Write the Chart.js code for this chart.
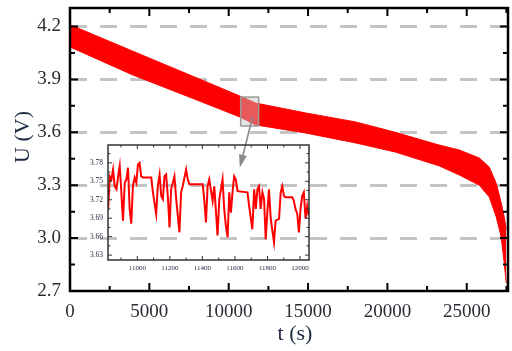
<!DOCTYPE html>
<html>
<head>
<meta charset="utf-8">
<script src="https://cdn.jsdelivr.net/npm/chart.js@4.4.1/dist/chart.umd.min.js"></script>
<style>
  body { margin: 0; background: #fff; }
  #wrap { position: relative; width: 512px; height: 351px; }
  #main { position: absolute; left: 0; top: 0; }
  #inset { position: absolute; left: 82px; top: 141px; }
</style>
</head>
<body>
<div id="wrap">
  <canvas id="main" width="512" height="351"></canvas>
  <canvas id="inset" width="232" height="138"></canvas>
</div>
<script>
// main curve: upper and lower edge of the red band (t in s, U in V)
const bandT = [0, 3960, 8000, 10700, 11700, 14840, 17990, 20500, 23250, 24530, 25790, 26420, 26860, 27170, 27360, 27490];
const bandUpper = [4.21, 4.06, 3.908, 3.806, 3.766, 3.71, 3.659, 3.60, 3.528, 3.50, 3.454, 3.403, 3.31, 3.20, 3.12, 3.05];
const bandLower = [4.084, 3.925, 3.783, 3.687, 3.642, 3.596, 3.54, 3.488, 3.41, 3.358, 3.30, 3.233, 3.12, 3.006, 2.86, 2.745];

// inset: zoomed part of the signal
const insetT = [10821, 10831, 10841, 10851, 10861, 10872, 10882, 10892, 10902, 10912, 10923, 10933, 10943, 10953, 10963, 10973,
  10984, 10994, 11004, 11014, 11024, 11035, 11086, 11096, 11116, 11126, 11137, 11147, 11157, 11167, 11177, 11188,
  11198, 11208, 11228, 11239, 11259, 11269, 11279, 11300, 11310, 11320, 11402, 11412, 11422, 11432, 11442, 11463,
  11473, 11493, 11504, 11514, 11524, 11534, 11544, 11555, 11565, 11575, 11585, 11595, 11605, 11616, 11677, 11687,
  11707, 11718, 11728, 11738, 11748, 11758, 11769, 11779, 11789, 11799, 11809, 11820, 11840, 11850, 11871, 11881,
  11891, 11901, 11911, 11952, 11962, 11972, 11983, 11993, 12003, 12013, 12023, 12034, 12044, 12054];
const insetV = [3.705, 3.758, 3.753, 3.769, 3.742, 3.737, 3.758, 3.775, 3.732, 3.686, 3.748, 3.753, 3.772, 3.705, 3.681, 3.742,
  3.756, 3.748, 3.777, 3.780, 3.758, 3.756, 3.756, 3.732, 3.697, 3.742, 3.761, 3.726, 3.721, 3.758, 3.761, 3.724,
  3.675, 3.737, 3.758, 3.721, 3.667, 3.732, 3.742, 3.769, 3.753, 3.745, 3.745, 3.718, 3.683, 3.742, 3.753, 3.718,
  3.742, 3.662, 3.721, 3.737, 3.753, 3.705, 3.678, 3.659, 3.732, 3.699, 3.732, 3.758, 3.753, 3.734, 3.732, 3.710,
  3.672, 3.737, 3.705, 3.737, 3.742, 3.705, 3.732, 3.721, 3.656, 3.699, 3.737, 3.689, 3.651, 3.686, 3.689, 3.732,
  3.742, 3.726, 3.724, 3.724, 3.718, 3.705, 3.697, 3.667, 3.705, 3.726, 3.732, 3.689, 3.710, 3.694];

// ticks
const xTicks = [0, 5000, 10000, 15000, 20000, 25000];
const xMinor = [2500, 7500, 12500, 17500, 22500, 27500];
const yTicks = [2.7, 3.0, 3.3, 3.6, 3.9, 4.2];
const yMinor = [2.85, 3.15, 3.45, 3.75, 4.05];
const insetXTicks = [11000, 11200, 11400, 11600, 11800, 12000];
const insetXMinor = [10900, 11100, 11300, 11500, 11700, 11900];
const insetYTicks = [3.63, 3.66, 3.69, 3.72, 3.75, 3.78];
const insetYMinor = [3.645, 3.675, 3.705, 3.735, 3.765, 3.795];

// zoom box on the main curve and the arrow to the inset
const zoomBox = { t0: 10756, t1: 11888, u0: 3.636, u1: 3.80 };
const arrow = { t0: 11500, u0: 3.685, t1: 10700, u1: 3.40 };

const serif = '"Liberation Serif", "DejaVu Serif", serif';

// fixed axis sizes, no extra label padding at the ends
const fitX = h => s => { s.height = h; s.paddingLeft = 0; s.paddingRight = 0; };
const fitY = w => s => { s.width = w; s.paddingTop = 0; s.paddingBottom = 0; };

// frame and inward ticks on all four sides
const frameTicks = {
  id: 'frameTicks',
  afterDraw(chart, args, o) {
    const { ctx, chartArea: a, scales: { x, y } } = chart;
    ctx.save();
    ctx.strokeStyle = o.color;
    ctx.lineWidth = o.tickWidth;
    ctx.beginPath();
    const vt = (vals, len) => vals.forEach(v => {
      const px = x.getPixelForValue(v);
      if (px < a.left - 0.5 || px > a.right + 0.5) return;
      ctx.moveTo(px, a.bottom); ctx.lineTo(px, a.bottom - len);
      ctx.moveTo(px, a.top); ctx.lineTo(px, a.top + len);
    });
    const ht = (vals, len) => vals.forEach(v => {
      const py = y.getPixelForValue(v);
      if (py < a.top - 0.5 || py > a.bottom + 0.5) return;
      ctx.moveTo(a.left, py); ctx.lineTo(a.left + len, py);
      ctx.moveTo(a.right, py); ctx.lineTo(a.right - len, py);
    });
    vt(o.xMajor, o.major); vt(o.xMinor, o.minor);
    ht(o.yMajor, o.major); ht(o.yMinor, o.minor);
    ctx.stroke();
    ctx.lineWidth = o.frameWidth;
    ctx.strokeRect(a.left, a.top, a.right - a.left, a.bottom - a.top);
    ctx.restore();
  }
};

// zoom box, arrow and axis titles for the main chart
const mainExtras = {
  id: 'mainExtras',
  afterDatasetsDraw(chart) {
    const { ctx, scales: { x, y } } = chart;
    ctx.save();
    const bx0 = x.getPixelForValue(zoomBox.t0), bx1 = x.getPixelForValue(zoomBox.t1);
    const by0 = y.getPixelForValue(zoomBox.u1), by1 = y.getPixelForValue(zoomBox.u0);
    ctx.fillStyle = 'rgba(200, 200, 200, 0.45)';
    ctx.fillRect(bx0, by0, bx1 - bx0, by1 - by0);
    ctx.strokeStyle = '#9a9a9a';
    ctx.lineWidth = 1.5;
    ctx.strokeRect(bx0, by0, bx1 - bx0, by1 - by0);

    const ax0 = x.getPixelForValue(arrow.t0), ay0 = y.getPixelForValue(arrow.u0);
    const ax1 = x.getPixelForValue(arrow.t1), ay1 = y.getPixelForValue(arrow.u1);
    const ang = Math.atan2(ay1 - ay0, ax1 - ax0);
    const hl = 13, hw = 4;
    ctx.strokeStyle = '#8a8a8a';
    ctx.fillStyle = '#8a8a8a';
    ctx.lineWidth = 1.6;
    ctx.beginPath();
    ctx.moveTo(ax0, ay0);
    ctx.lineTo(ax1 - hl * Math.cos(ang), ay1 - hl * Math.sin(ang));
    ctx.stroke();
    ctx.beginPath();
    ctx.moveTo(ax1, ay1);
    ctx.lineTo(ax1 - hl * Math.cos(ang) + hw * Math.sin(ang), ay1 - hl * Math.sin(ang) - hw * Math.cos(ang));
    ctx.lineTo(ax1 - hl * Math.cos(ang) - hw * Math.sin(ang), ay1 - hl * Math.sin(ang) + hw * Math.cos(ang));
    ctx.closePath();
    ctx.fill();
    ctx.restore();
  },
  afterDraw(chart) {
    const { ctx } = chart;
    ctx.save();
    ctx.fillStyle = '#1f2a44';
    ctx.font = '22px ' + serif;
    ctx.textAlign = 'center';
    ctx.textBaseline = 'middle';
    ctx.fillText('t (s)', 295, 334);
    ctx.translate(23, 137);
    ctx.rotate(-Math.PI / 2);
    ctx.fillText('U (V)', 0, 0);
    ctx.restore();
  }
};

new Chart(document.getElementById('main'), {
  type: 'line',
  data: {
    datasets: [
      {
        data: bandT.map((t, i) => ({ x: t, y: bandUpper[i] })),
        borderColor: '#ff0000',
        borderWidth: 1,
        pointRadius: 0,
        fill: false
      },
      {
        data: bandT.map((t, i) => ({ x: t, y: bandLower[i] })),
        borderColor: '#ff0000',
        backgroundColor: '#ff0000',
        borderWidth: 1,
        pointRadius: 0,
        fill: '-1'
      }
    ]
  },
  options: {
    responsive: false,
    animation: false,
    layout: { padding: { top: 8, right: 4, left: 0, bottom: 0 } },
    plugins: {
      legend: { display: false },
      tooltip: { enabled: false },
      frameTicks: {
        color: '#000', tickWidth: 2, frameWidth: 2.5, major: 8, minor: 5,
        xMajor: xTicks, xMinor: xMinor, yMajor: yTicks, yMinor: yMinor
      }
    },
    scales: {
      x: {
        type: 'linear',
        min: 0,
        max: 27600,
        afterBuildTicks: s => { s.ticks = xTicks.map(v => ({ value: v })); },
        afterFit: fitX(60),
        grid: { display: false, drawTicks: false },
        border: { display: false },
        ticks: { padding: 10, color: '#2b2b35', font: { family: serif, size: 19 }, maxRotation: 0, autoSkip: false, callback: v => String(v) }
      },
      y: {
        min: 2.7,
        max: 4.305,
        afterBuildTicks: s => { s.ticks = yTicks.map(v => ({ value: v })); },
        afterFit: fitY(70),
        grid: {
          drawTicks: false,
          color: c => (c.tick && c.tick.value === 2.7 ? 'rgba(0,0,0,0)' : '#c4c4c4'),
          lineWidth: 3
        },
        border: { display: false, dash: [17, 13] },
        ticks: { padding: 9, color: '#2b2b35', font: { family: serif, size: 19 }, callback: v => v.toFixed(1) }
      }
    }
  },
  plugins: [frameTicks, mainExtras]
});

new Chart(document.getElementById('inset'), {
  type: 'line',
  data: {
    datasets: [{
      data: insetT.map((t, i) => ({ x: t, y: insetV[i] })),
      borderColor: '#ff0000',
      borderWidth: 2,
      pointRadius: 0,
      tension: 0,
      fill: false
    }]
  },
  options: {
    responsive: false,
    animation: false,
    layout: { padding: { top: 4, right: 5, left: 0, bottom: 0 } },
    plugins: {
      legend: { display: false },
      tooltip: { enabled: false },
      frameTicks: {
        color: '#333', tickWidth: 1, frameWidth: 1.5, major: 4, minor: 2.5,
        xMajor: insetXTicks, xMinor: insetXMinor, yMajor: insetYTicks, yMinor: insetYMinor
      }
    },
    scales: {
      x: {
        type: 'linear',
        min: 10820,
        max: 12055,
        afterBuildTicks: s => { s.ticks = insetXTicks.map(v => ({ value: v })); },
        afterFit: fitX(19),
        grid: { display: false, drawTicks: false },
        border: { display: false },
        ticks: { padding: 4, color: '#2b2b45', font: { family: serif, size: 7 }, maxRotation: 0, autoSkip: false, callback: v => String(v) }
      },
      y: {
        min: 3.622,
        max: 3.809,
        afterBuildTicks: s => { s.ticks = insetYTicks.map(v => ({ value: v })); },
        afterFit: fitY(26),
        grid: { display: false, drawTicks: false },
        border: { display: false },
        ticks: { padding: 5, color: '#2b2b45', font: { family: serif, size: 7.5 }, callback: v => v.toFixed(2) }
      }
    }
  },
  plugins: [frameTicks]
});
</script>
</body>
</html>
